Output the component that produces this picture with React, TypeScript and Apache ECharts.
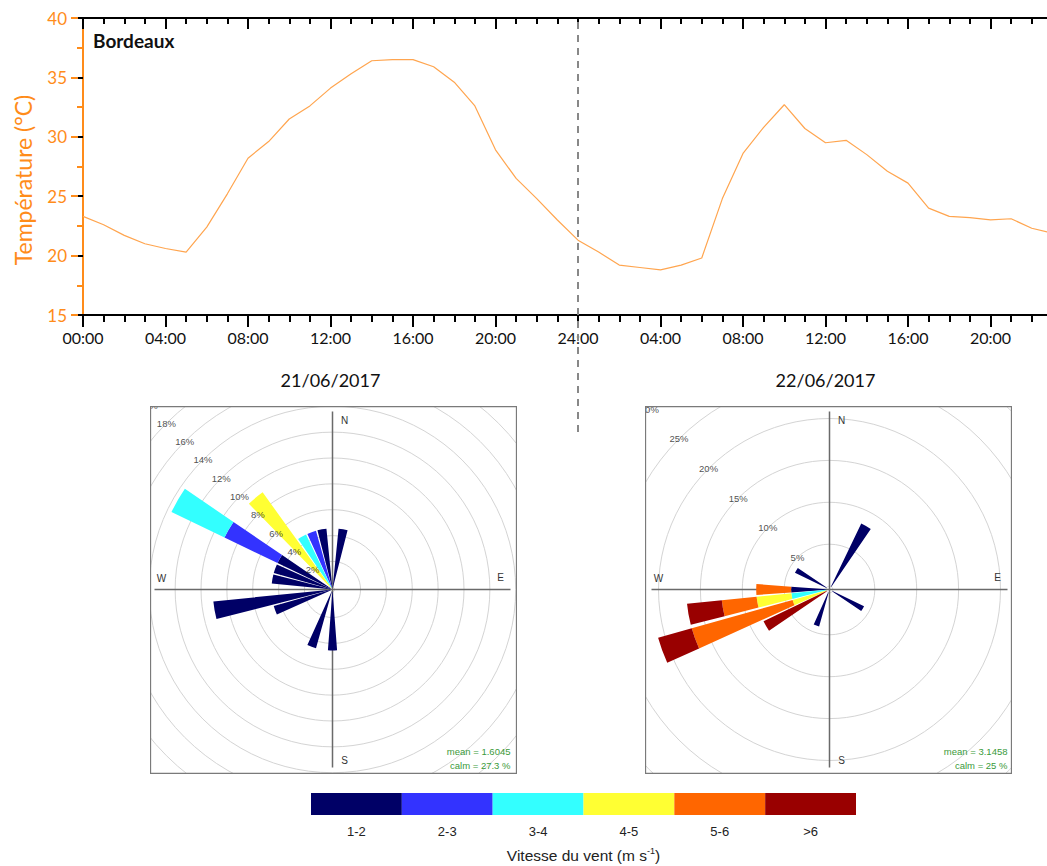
import React, { useEffect, useRef } from 'react';
import * as echarts from 'echarts';

// ---------- Temperature (hourly, 21/06/2017 00:00 -> 22/06/2017 23:00) ----------
const temperature = [
  23.3, 22.6, 21.7, 21.0, 20.6, 20.3, 22.4, 25.2, 28.2, 29.6, 31.5, 32.6,
  34.1, 35.3, 36.4, 36.5, 36.5, 35.9, 34.6, 32.6, 28.9, 26.5, 24.8, 23.0,
  21.3, 20.3, 19.2, 19.0, 18.8, 19.2, 19.8, 24.8, 28.6, 30.8, 32.7, 30.7,
  29.5, 29.7, 28.5, 27.1, 26.1, 24.0, 23.3, 23.2, 23.0, 23.1, 22.3, 21.9,
];
const dayLabels = ['21/06/2017', '22/06/2017'];
const dayBoundaryHour = 24;
const stationName = 'Bordeaux';
const yAxisTitle = 'Température (°C)';

// ---------- Wind speed classes ----------
const speedClasses = ['1-2', '2-3', '3-4', '4-5', '5-6', '>6'];
const speedColors = ['#000066', '#3333ff', '#33ffff', '#ffff33', '#ff6600', '#990000'];
const speedTitle = 'Vitesse du vent (m s{sup|-1})';

// direction bins (degrees)
const directions = [0, 10, 20, 30, 40, 50, 60, 70, 80, 90, 100, 110, 120, 130, 140, 150, 160, 170,
  180, 190, 200, 210, 220, 230, 240, 250, 260, 270, 280, 290, 300, 310, 320, 330, 340, 350];

// ---------- Wind rose 21/06/2017 : [direction, % of time] per speed class ----------
const rose1_1_2 = [[10, 4.55], [180, 4.55], [200, 4.55], [250, 4.55], [260, 9.09], [280, 4.55], [290, 4.55], [300, 4.55], [350, 4.55]];
const rose1_2_3 = [[300, 4.55], [340, 4.55]];
const rose1_3_4 = [[300, 4.55], [330, 4.55]];
const rose1_4_5 = [[320, 9.09]];
const rose1_5_6: number[][] = [];
const rose1_gt6: number[][] = [];
const rose1Ticks = [2, 4, 6, 8, 10, 12, 14, 16, 18, 20];
const rose1Mean = 'mean = 1.6045';
const rose1Calm = 'calm = 27.3 %';

// ---------- Wind rose 22/06/2017 ----------
const rose2_1_2 = [[30, 8.33], [120, 4.17], [200, 4.17], [270, 4.17], [300, 4.17]];
const rose2_2_3: number[][] = [];
const rose2_3_4 = [[260, 4.17]];
const rose2_4_5 = [[250, 4.17], [260, 4.17]];
const rose2_5_6 = [[250, 12.5], [260, 4.17], [270, 4.17]];
const rose2_gt6 = [[240, 8.33], [250, 4.17], [260, 4.17]];
const rose2Ticks = [5, 10, 15, 20, 25, 30];
const rose2Mean = 'mean = 3.1458';
const rose2Calm = 'calm = 25 %';

const ORANGE = '#ff8c1a';
const FONT_TOP = 'Lato, "Open Sans", sans-serif';
const FONT_ROSE = '"Liberation Sans", Arial, sans-serif';
const XMAX = 48;

const timeFormatter = (v: number) => {
  if (v % 4 !== 0 || v >= XMAX) return '';
  if (v === dayBoundaryHour) return '24:00';
  const h = v % 24;
  return (h < 10 ? '0' : '') + h + ':00';
};

function mainOption(): any {
  return {
    animation: false,
    backgroundColor: '#ffffff',
    textStyle: { fontFamily: FONT_TOP },
    title: {
      text: stationName, left: 93, top: 31, padding: 0,
      textStyle: { fontFamily: FONT_TOP, fontWeight: 'bold', fontSize: 19, color: '#111' },
    },
    grid: [
      { left: 83, top: 18, right: -26, height: 297, containLabel: false, outerBoundsMode: 'none' },
      { left: 83, top: 18, right: -26, height: 414, containLabel: false, outerBoundsMode: 'none' },
      { left: 311, top: 793, width: 545, height: 22, containLabel: false, outerBoundsMode: 'none' },
      { left: 83, top: 18, right: 0, height: 297, containLabel: false, outerBoundsMode: 'none' },
    ],
    xAxis: [
      {
        gridIndex: 0, type: 'value', min: 0, max: XMAX, interval: 4, position: 'bottom',
        axisLine: { show: true, onZero: false, lineStyle: { color: '#000', width: 2 } },
        axisTick: { show: true, length: 12, lineStyle: { color: '#000', width: 2 } },
        minorTick: { show: true, splitNumber: 4, length: 7, lineStyle: { color: '#000', width: 2 } },
        axisLabel: { formatter: timeFormatter, fontSize: 16, margin: 14, color: '#111', fontFamily: FONT_TOP },
        splitLine: { show: false }, minorSplitLine: { show: false },
      },
      {
        gridIndex: 0, type: 'value', min: 0, max: XMAX, interval: 4, position: 'top',
        axisLine: { show: true, onZero: false, lineStyle: { color: '#000', width: 2 } },
        axisTick: { show: true, inside: true, length: 11, lineStyle: { color: '#000', width: 2 } },
        minorTick: { show: true, splitNumber: 4, length: 6, lineStyle: { color: '#000', width: 2 } },
        axisLabel: { show: false }, splitLine: { show: false },
      },
      {
        gridIndex: 0, type: 'value', min: 0, max: XMAX, interval: 12, position: 'bottom',
        axisLine: { show: false }, axisTick: { show: false }, splitLine: { show: false },
        axisLabel: {
          margin: 56, fontSize: 18, color: '#111', fontFamily: FONT_TOP,
          formatter: (v: number) => (v % 24 === 12 ? dayLabels[Math.floor(v / 24)] : ''),
        },
      },
      { gridIndex: 1, type: 'value', min: 0, max: XMAX, show: false },
      {
        gridIndex: 2, type: 'category', data: speedClasses,
        axisLine: { show: false }, axisTick: { show: false },
        axisLabel: { fontSize: 13, color: '#222', margin: 10, fontFamily: FONT_ROSE },
        name: speedTitle, nameLocation: 'middle', nameGap: 31,
        nameTextStyle: {
          fontSize: 15.5, color: '#222', fontFamily: FONT_ROSE, lineHeight: 18,
          rich: { sup: { fontSize: 9, verticalAlign: 'top', lineHeight: 10, color: '#222', fontFamily: FONT_ROSE } },
        },
      },
      { gridIndex: 3, type: 'value', min: 0, max: 1, show: false },
    ],
    yAxis: [
      {
        gridIndex: 0, type: 'value', min: 15, max: 40, interval: 5, position: 'left',
        axisLine: { show: true, onZero: false, lineStyle: { color: ORANGE, width: 2 } },
        axisTick: { show: true, length: 12, lineStyle: { color: ORANGE, width: 2 } },
        minorTick: { show: true, splitNumber: 2, length: 6, lineStyle: { color: ORANGE, width: 2 } },
        axisLabel: { color: ORANGE, fontSize: 17, margin: 16, fontFamily: FONT_TOP },
        splitLine: { show: false }, minorSplitLine: { show: false },
        name: yAxisTitle, nameLocation: 'middle', nameGap: 49,
        nameTextStyle: { color: ORANGE, fontSize: 23, fontFamily: FONT_TOP, padding: [0, 27, 0, 0] },
      },
      { gridIndex: 1, type: 'value', min: 0, max: 1, show: false },
      { gridIndex: 2, type: 'value', min: 0, max: 1, show: false },
      {
        gridIndex: 3, type: 'value', min: 15, max: 40, interval: 5, position: 'right',
        axisLine: { show: false }, axisLabel: { show: false }, splitLine: { show: false },
        axisTick: { show: true, inside: true, length: 5, lineStyle: { color: '#000', width: 2 } },
      },
    ],
    series: [
      {
        type: 'line', xAxisIndex: 0, yAxisIndex: 0, symbol: 'none', silent: true,
        data: temperature.map((t, h) => [h, t]),
        lineStyle: { color: '#ffa54f', width: 1.2 },
      },
      {
        type: 'line', xAxisIndex: 3, yAxisIndex: 1, symbol: 'none', silent: true,
        data: [[dayBoundaryHour, 0], [dayBoundaryHour, 1]],
        lineStyle: { color: '#888', width: 2, type: [7, 6] },
      },
      {
        type: 'bar', xAxisIndex: 4, yAxisIndex: 2, silent: true, barCategoryGap: '0%', barWidth: '100%',
        data: speedColors.map((c) => ({ value: 1, itemStyle: { color: c } })),
      },
    ],
  };
}

function roseOption(cfg: any): any {
  const { W, H, cx, cy, r0, pxPerPct, max, step, classes, ticks, mean, calm } = cfg;
  const outer = r0 + pxPerPct * max;
  const hidden = { axisLine: { show: false }, axisTick: { show: false }, axisLabel: { show: false }, splitLine: { show: false }, splitArea: { show: false } };
  const txt = (s: string, x: number, y: number, extra: any = {}) => ({
    type: 'text', x, y, z: 50, silent: true,
    style: { text: s, fill: '#333', fontSize: 10, fontFamily: FONT_ROSE, align: 'center', verticalAlign: 'middle', ...extra },
  });
  return {
    animation: false,
    backgroundColor: '#ffffff',
    polar: [
      { center: [cx, cy], radius: [r0, outer] },
      { center: [cx, cy], radius: [r0, outer] },
      { center: [cx, cy], radius: [0, 178] },
    ],
    angleAxis: [
      { polarIndex: 0, type: 'category', data: directions.map(String), startAngle: 95, clockwise: true, boundaryGap: true, ...hidden },
      { polarIndex: 1, type: 'value', min: 0, max: 360, startAngle: 90, clockwise: true, ...hidden },
      {
        polarIndex: 2, type: 'value', min: 0, max: 360, interval: 90, startAngle: 90, clockwise: true,
        ...hidden, splitLine: { show: true, lineStyle: { color: '#6a6a6a', width: 1.5 } },
      },
    ],
    radiusAxis: [
      {
        polarIndex: 0, type: 'value', min: 0, max, interval: step,
        ...hidden, splitLine: { show: true, lineStyle: { color: '#d4d4d4', width: 1 } },
      },
      { polarIndex: 1, type: 'value', min: 0, max, ...hidden },
      { polarIndex: 2, type: 'value', min: 0, max: 1, ...hidden },
    ],
    series: [
      ...classes.map((pairs: number[][], k: number) => ({
        type: 'bar', coordinateSystem: 'polar', polarIndex: 0, stack: 'ws', barWidth: '86%', silent: true,
        name: speedClasses[k],
        itemStyle: { color: speedColors[k], borderWidth: 0 },
        data: directions.map((d) => {
          const p = pairs.find((q) => q[0] === d);
          return p ? p[1] : 0;
        }),
      })),
      {
        type: 'scatter', coordinateSystem: 'polar', polarIndex: 1, symbolSize: 1, silent: true, z: 10,
        itemStyle: { color: 'rgba(0,0,0,0)' },
        data: ticks.map((t: number) => [t, 315]),
        label: {
          show: true, position: 'inside', color: '#222', fontSize: 9.5, fontFamily: FONT_ROSE,
          formatter: (p: any) => p.value[0] + '%',
        },
      },
    ],
    graphic: [
      { type: 'rect', z: 100, silent: true, shape: { x: 0.5, y: 0.5, width: W - 1, height: H - 1 }, style: { fill: 'none', stroke: '#7a7a7a', lineWidth: 1.3 } },
      txt('N', cx + 12, cy - 169),
      txt('E', cx + 168, cy - 12),
      txt('S', cx + 12, cy + 171),
      txt('W', cx - 171, cy - 11),
      txt(mean, cx + 178, cy + 161.5, { align: 'right', fill: '#3a9a3a', fontSize: 9.5 }),
      txt(calm, cx + 178, cy + 176, { align: 'right', fill: '#3a9a3a', fontSize: 9.5 }),
    ],
  };
}

function EChart({ option, style }: { option: any; style: any }) {
  const ref = useRef<HTMLDivElement>(null);
  useEffect(() => {
    const chart = echarts.init(ref.current as HTMLDivElement, null, { renderer: 'svg' });
    chart.setOption(option);
    return () => chart.dispose();
  }, []);
  return <div ref={ref} style={style} />;
}

export default function App() {
  const rose1 = roseOption({
    W: 367, H: 368, cx: 182.5, cy: 183.5, r0: 2.2, pxPerPct: 12.93, max: 20, step: 2,
    classes: [rose1_1_2, rose1_2_3, rose1_3_4, rose1_4_5, rose1_5_6, rose1_gt6],
    ticks: rose1Ticks, mean: rose1Mean, calm: rose1Calm,
  });
  const rose2 = roseOption({
    W: 367, H: 368, cx: 184.5, cy: 183.5, r0: 3.4, pxPerPct: 8.38, max: 30, step: 5,
    classes: [rose2_1_2, rose2_2_3, rose2_3_4, rose2_4_5, rose2_5_6, rose2_gt6],
    ticks: rose2Ticks, mean: rose2Mean, calm: rose2Calm,
  });
  return (
    <div style={{ position: 'absolute', left: 0, top: 0, width: 1047, height: 866, background: '#fff', overflow: 'hidden' }}>
      <EChart option={mainOption()} style={{ position: 'absolute', left: 0, top: 0, width: 1047, height: 866 }} />
      <EChart option={rose1} style={{ position: 'absolute', left: 150, top: 406, width: 367, height: 368 }} />
      <EChart option={rose2} style={{ position: 'absolute', left: 645, top: 406, width: 367, height: 368 }} />
    </div>
  );
}
